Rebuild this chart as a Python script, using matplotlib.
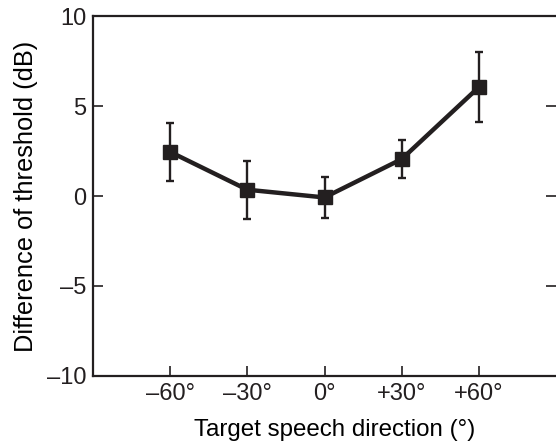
import matplotlib
matplotlib.use("Agg")
import matplotlib.pyplot as plt

plt.rcParams.update({
    "font.family": ["Liberation Sans", "DejaVu Sans"],
    "font.size": 17,
})

# data
directions = [-60, -30, 0, 30, 60]
tick_labels = ["\u201360\u00b0", "\u201330\u00b0", "0\u00b0", "+30\u00b0", "+60\u00b0"]
threshold_diff = [2.45, 0.35, -0.08, 2.05, 6.05]
threshold_err = [1.62, 1.6, 1.12, 1.07, 1.95]
y_ticks = [-10, -5, 0, 5, 10]
y_tick_labels = ["\u201310", "\u20135", "0", "5", "10"]

fig = plt.figure(figsize=(5.56, 4.46), dpi=100)
ax = fig.add_axes([0.1673, 0.157, 0.8327, 0.807])

ax.errorbar(directions, threshold_diff, yerr=threshold_err, color="#231f20",
            lw=3.2, marker="s", ms=10.5, elinewidth=1.7, capsize=3, capthick=1.7)

ax.set_xlim(-90, 90)
ax.set_ylim(-10, 10)
ax.set_xticks(directions)
ax.set_xticklabels(tick_labels)
ax.set_yticks(y_ticks)
ax.set_yticklabels(y_tick_labels)
ax.set_xlabel("Target speech direction (\u00b0)", fontsize=17.4)
ax.xaxis.set_label_coords(0.521, -0.12, transform=ax.transAxes)
ax.set_ylabel("Difference of threshold (dB)", fontsize=18.3, labelpad=6)

for s in ["left", "bottom", "top"]:
    ax.spines[s].set_linewidth(1.6)
    ax.spines[s].set_color("#231f20")
ax.spines["right"].set_visible(False)
ax.tick_params(direction="in", length=7.5, width=1.2, color="#231f20",
               labelcolor="#231f20", pad=5)
ax.tick_params(axis="y", right=True)

fig.savefig("out.png", dpi=100)
